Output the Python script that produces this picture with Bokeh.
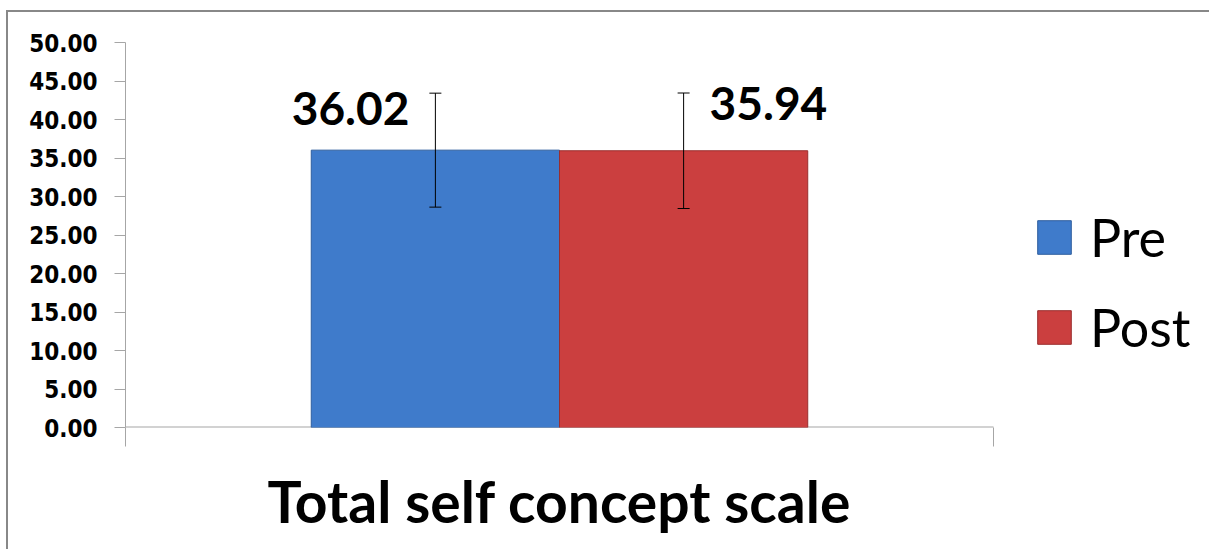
from bokeh.plotting import figure
from bokeh.models import (Range1d, LinearAxis, FixedTicker, Whisker, TeeHead,
                          ColumnDataSource, Legend, LegendItem, NumeralTickFormatter)
from bokeh.transform import dodge
from bokeh.core.properties import value
from bokeh.embed import file_html
from bokeh.resources import INLINE

# ---- data ----
categories = ["Total self concept scale"]
groups = ["Pre", "Post"]
means = [36.02, 35.94]
sds = [7.40, 7.50]
y_ticks = [0, 5, 10, 15, 20, 25, 30, 35, 40, 45, 50]

colors = ["#3F7BCB", "#CB3F3F"]
edge_colors = ["#2F5E9E", "#9A2E2E"]
offsets = [-0.143, 0.143]
bar_width = 0.286

ncat = len(categories)
cat_centers = [i + 0.5 for i in range(ncat)]
cat_edges = list(range(ncat + 1))

# plot area: categories take 868 px, extra room on the right holds the legend
cat_px = 868
frame_w = 1084
x_end = ncat * frame_w / cat_px

p = figure(frame_width=frame_w, frame_height=385, output_backend="svg", toolbar_location=None,
           x_range=Range1d(0, x_end), y_range=Range1d(0, 50), x_axis_location=None,
           min_border_left=117, min_border_right=0, min_border_top=30, min_border_bottom=122,
           styles={"border-left": "2px solid #888888", "border-top": "2px solid #888888",
                   "margin-left": "6px", "margin-top": "10px"})
p.outline_line_color = None
p.grid.visible = False
p.background_fill_color = "white"

# y axis
ya = p.yaxis[0]
ya.ticker = FixedTicker(ticks=y_ticks)
ya.formatter = NumeralTickFormatter(format="0.00")
ya.axis_line_color = "#A6A6A6"
ya.major_tick_line_color = "#A6A6A6"
ya.major_tick_in = 0
ya.major_tick_out = 11
ya.minor_tick_line_color = None
ya.major_label_standoff = 17
ya.major_label_text_font = "DejaVu Sans Condensed, DejaVu Sans"
ya.major_label_text_font_style = "bold"
ya.major_label_text_font_size = "24px"
ya.major_label_text_color = "black"

# x axis: ticks at the category edges
xa = LinearAxis(ticker=FixedTicker(ticks=cat_edges),
                major_label_overrides={e: "" for e in cat_edges},
                major_label_text_font_size="1px", major_label_standoff=0,
                axis_line_color=None, major_tick_line_color="#A6A6A6",
                major_tick_in=0, major_tick_out=19, minor_tick_line_color=None)
p.add_layout(xa, "below")
# category names under the categories
xc = LinearAxis(ticker=FixedTicker(ticks=cat_centers),
                major_label_overrides={c: n for c, n in zip(cat_centers, categories)},
                major_label_standoff=14,
                axis_line_color=None, major_tick_line_color=None, minor_tick_line_color=None,
                major_label_text_font="Lato", major_label_text_font_style="bold",
                major_label_text_font_size="57px", major_label_text_color="black")
p.add_layout(xc, "below")

# baseline of the category axis
p.segment(x0=[cat_edges[0]], x1=[cat_edges[-1]], y0=[0], y1=[0],
          line_color="#A6A6A6", line_width=2)

items = []
for i, g in enumerate(groups):
    src = ColumnDataSource(dict(cat=cat_centers, mean=[means[i]],
                                upper=[means[i] + sds[i]], lower=[means[i] - sds[i]],
                                label=[f"{means[i]:.2f}"]))
    xpos = dodge("cat", offsets[i])
    r = p.vbar(x=xpos, top="mean", bottom=0, width=bar_width, source=src,
               fill_color=colors[i], line_color=edge_colors[i], line_width=1)
    items.append(LegendItem(label=g, renderers=[r]))
    w = Whisker(base=xpos, upper="upper", lower="lower", source=src, level="overlay",
                line_color="black", line_width=1,
                upper_head=TeeHead(size=12, line_color="black", line_width=1),
                lower_head=TeeHead(size=12, line_color="black", line_width=1))
    p.add_layout(w)
    if i == 0:
        p.text(x=xpos, y="mean", text="label", source=src, text_align="right",
               text_baseline="middle", x_offset=-26, y_offset=-42,
               text_font=value("Lato"), text_font_style="bold", text_font_size="46px",
               text_color="black")
    else:
        p.text(x=xpos, y="mean", text="label", source=src, text_align="left",
               text_baseline="middle", x_offset=26, y_offset=-47,
               text_font=value("Lato"), text_font_style="bold", text_font_size="46px",
               text_color="black")

legend = Legend(items=items, location=(908, 69), orientation="vertical",
                glyph_width=42, glyph_height=42, label_standoff=15,
                label_text_font="Lato", label_text_font_size="52px",
                label_text_color="black",
                spacing=28, padding=0, margin=0, border_line_color=None,
                background_fill_alpha=0)
p.add_layout(legend, "center")

open("out.html", "w").write(file_html(p, INLINE))
